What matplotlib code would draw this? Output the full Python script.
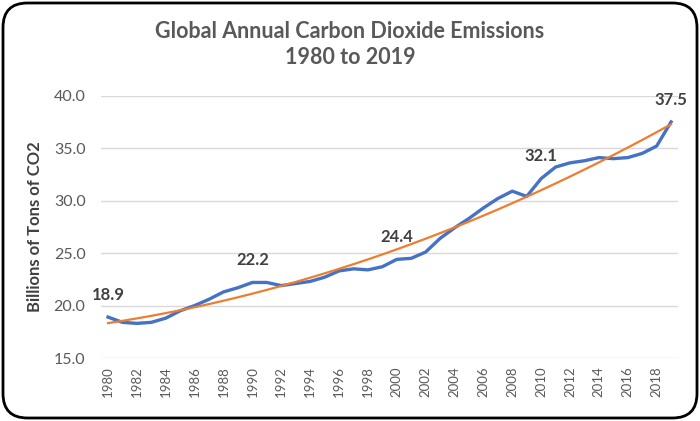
import numpy as np
import matplotlib
matplotlib.use("Agg")
import matplotlib.pyplot as plt
from matplotlib.patches import FancyBboxPatch

years = list(range(1980, 2020))
emissions = [18.9, 18.4, 18.3, 18.4, 18.8, 19.5, 20.0, 20.6, 21.3, 21.7,
             22.2, 22.2, 21.9, 22.1, 22.3, 22.7, 23.3, 23.5, 23.4, 23.7,
             24.4, 24.5, 25.1, 26.4, 27.4, 28.3, 29.3, 30.2, 30.9, 30.4,
             32.1, 33.2, 33.6, 33.8, 34.1, 34.0, 34.1, 34.5, 35.2, 37.5]
labelled_years = [1980, 1990, 2000, 2010, 2019]

plt.rcParams['font.family'] = ['Lato', 'DejaVu Sans']

fig = plt.figure(figsize=(7, 4.21), dpi=100)
ax = fig.add_axes([0.144, 0.1496, 0.825, 0.6231])

x = np.arange(len(years))
y = np.array(emissions)

# excel-style polynomial trendline (order 2)
coef = np.polyfit(x, y, 2)
trend = np.polyval(coef, x)

ax.plot(x, y, color="#4472C4", lw=2.4, solid_joinstyle="round", zorder=3)
ax.plot(x, trend, color="#ED7D31", lw=1.6, zorder=4)

for yr in labelled_years:
  i = years.index(yr)
  ax.annotate(f"{emissions[i]:.1f}", xy=(x[i], y[i]), xytext=(0, 16),
              textcoords="offset points", ha="center", va="center",
              fontsize=12, fontweight="bold", color="#404040")

ax.set_xlim(-0.5, len(years) - 0.5)
ax.set_ylim(15, 40)
ax.set_yticks(np.arange(15, 40.1, 5))
ax.set_yticklabels([f"{v:.1f}" for v in np.arange(15, 40.1, 5)])
ax.set_xticks(x[::2])
ax.set_xticklabels([str(v) for v in years[::2]], rotation=90)
ax.tick_params(axis="y", length=0, pad=11, labelsize=11.5, labelcolor="#595959")
ax.tick_params(axis="x", length=0, pad=6, labelsize=9.5, labelcolor="#595959")
ax.grid(axis="y", color="#d9d9d9", lw=1)
ax.set_axisbelow(True)
for s in ax.spines.values():
  s.set_visible(False)

ax.set_ylabel("Billions of Tons of CO2", fontsize=12, fontweight="bold",
              color="#404040", labelpad=8)

fig.text(0.5, 1 - 31/421, "Global Annual Carbon Dioxide Emissions", ha="center",
         va="center", fontsize=15.5, fontweight="bold", color="#595959")
fig.text(0.5, 1 - 58/421, "1980 to 2019", ha="center", va="center",
         fontsize=15.5, fontweight="bold", color="#595959")

border = FancyBboxPatch((3/700, 3/421), 694/700, 415/421,
                        boxstyle="round,pad=0,rounding_size=0.035",
                        transform=fig.transFigure, fill=False,
                        edgecolor="black", lw=2, mutation_aspect=700/421)
fig.patches.append(border)

plt.savefig("out.png", dpi=100)
